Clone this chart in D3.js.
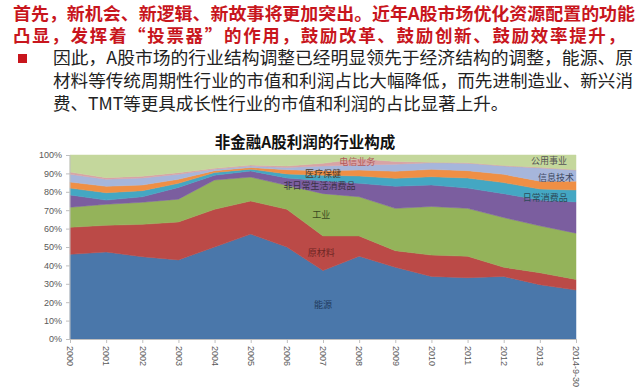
<!DOCTYPE html>
<html>
<head>
<meta charset="utf-8">
<script src="https://cdn.jsdelivr.net/npm/d3@7"></script>
<style>
  html, body { margin: 0; padding: 0; background: #fff; }
  svg { display: block; }
</style>
</head>
<body>
<div id="chart"></div>
<script>
// categories (x axis)
var years = ["2000", "2001", "2002", "2003", "2004", "2005", "2006", "2007",
             "2008", "2009", "2010", "2011", "2012", "2013", "2014-9-30"];

// share of non-financial A-share profit, %
var energy    = [46.0, 47.3, 44.7, 43.0, 50.0, 57.0, 50.0, 37.2, 45.0, 39.0, 34.0, 33.3, 34.0, 29.5, 26.6];
var materials = [14.7, 14.5, 17.6, 20.6, 20.5, 18.0, 20.5, 18.8, 11.0,  9.0, 11.6, 11.7,  5.0,  6.5,  5.8];
var industry  = [10.9, 11.4, 12.0, 12.4, 15.9, 13.0, 13.0, 23.0, 21.3, 23.0, 26.4, 26.0, 27.0, 25.5, 25.1];
var consDisc  = [ 6.7,  2.3,  3.0,  6.4,  2.6,  3.3,  4.0,  7.0,  7.3, 12.0, 11.7, 11.0, 13.0, 14.0, 17.0];
var consStap  = [ 3.7,  4.0,  3.3,  2.2,  1.5,  1.0,  2.2,  3.0,  4.0,  4.3,  4.5,  5.5,  6.0,  6.0,  6.5];
var health    = [ 3.3,  3.5,  3.1,  2.2,  1.0,  0.9,  2.3,  2.5,  3.2,  3.9,  4.0,  4.0,  4.5,  4.3,  4.8];
var infoTech  = [ 4.2,  3.8,  3.8,  2.7,  0.8,  0.8,  1.2,  2.5,  2.8,  3.8,  3.6,  4.0,  4.5,  7.2,  6.0];
var telecom   = [ 1.2,  0.9,  1.0,  0.9,  0.5,  0.5,  0.8,  1.5,  3.4,  1.5,  0.2,  0.3,  0.3,  0.3,  0.2];
var utilities = [ 9.3, 12.3, 11.5,  9.6,  7.2,  5.5,  6.0,  4.5,  2.0,  3.5,  4.0,  4.2,  5.7,  6.7,  8.0];

var seriesNames = ["能源", "原材料", "工业", "非日常生活消费品", "日常消费品",
                   "医疗保健", "信息技术", "电信业务", "公用事业"];
var seriesValues = [energy, materials, industry, consDisc, consStap,
                    health, infoTech, telecom, utilities];
var seriesColors = ["#4a77aa", "#bb4a47", "#94b35a", "#7b5e9f", "#44a7c3",
                    "#ef8f45", "#a6b6db", "#d8a3a6", "#c4d79c"];

// y axis ticks
var yTicks = [0, 10, 20, 30, 40, 50, 60, 70, 80, 90, 100];

// where the in-chart labels sit: category index and % value
var labelSpots = [
  {name: "能源",             at: 7,     v: 18.5, color: "#1f3a5c"},
  {name: "原材料",           at: 6.95,  v: 46.7, color: "#6e2624"},
  {name: "工业",             at: 6.95,  v: 67.4, color: "#3b4a22"},
  {name: "非日常生活消费品", at: 6.9,   v: 83.2, color: "#3a3146"},
  {name: "医疗保健",         at: 7,     v: 89.7, color: "#4a3a2c"},
  {name: "电信业务",         at: 7.95,  v: 96.2, color: "#b25a5a"},
  {name: "公用事业",         at: 13.25, v: 96.7, color: "#555555"},
  {name: "信息技术",         at: 13.45, v: 87.5, color: "#3d4660"},
  {name: "日常消费品",       at: 13.15, v: 76.6, color: "#2c4a58"}
];

var W = 640, H = 392;
var svg = d3.select("#chart").append("svg")
    .attr("width", W)
    .attr("height", H);

// ---- text above the chart
var cjk = "'Noto Sans CJK SC', 'Noto Sans', sans-serif";
var red = "#c8161d";

svg.append("text")
    .attr("x", 13).attr("y", 20)
    .attr("font-family", cjk).attr("font-size", 17.5).attr("font-weight", "bold")
    .attr("fill", red)
    .attr("textLength", 622).attr("lengthAdjust", "spacingAndGlyphs")
    .text("首先，新机会、新逻辑、新故事将更加突出。近年A股市场优化资源配置的功能");
svg.append("text")
    .attr("x", 13).attr("y", 42)
    .attr("font-family", cjk).attr("font-size", 17.5).attr("font-weight", "bold")
    .attr("fill", red)
    .attr("textLength", 612).attr("lengthAdjust", "spacing")
    .text("凸显，发挥着“投票器”的作用，鼓励改革、鼓励创新、鼓励效率提升，");

svg.append("rect")
    .attr("x", 18).attr("y", 54).attr("width", 9).attr("height", 9)
    .attr("fill", "#c8161d");

var body = [
  "因此，A股市场的行业结构调整已经明显领先于经济结构的调整，能源、原",
  "材料等传统周期性行业的市值和利润占比大幅降低，而先进制造业、新兴消",
  "费、TMT等更具成长性行业的市值和利润的占比显著上升。"
];
body.forEach(function(line, i) {
  var t = svg.append("text")
      .attr("x", 53).attr("y", 64 + i * 23)
      .attr("font-family", cjk).attr("font-size", 17.5)
      .attr("fill", "#222")
      .text(line);
  if (i < 2) t.attr("textLength", 580).attr("lengthAdjust", "spacingAndGlyphs");
});

// ---- chart title
svg.append("text")
    .attr("x", 305).attr("y", 148)
    .attr("text-anchor", "middle")
    .attr("font-family", cjk).attr("font-size", 15.5).attr("font-weight", "bold")
    .attr("fill", "#111")
    .text("非金融A股利润的行业构成");

// ---- stacked area
var plotL = 70, plotR = 576, plotT = 155, plotB = 339;

var x = d3.scaleLinear().domain([0, years.length - 1]).range([plotL, plotR]);
var y = d3.scaleLinear().domain([0, 100]).range([plotB, plotT]);

var rows = years.map(function(yr, i) {
  var r = {year: yr, idx: i};
  seriesNames.forEach(function(n, k) { r[n] = seriesValues[k][i]; });
  return r;
});

var stacked = d3.stack().keys(seriesNames)(rows);

var area = d3.area()
    .x(function(d) { return x(d.data.idx); })
    .y0(function(d) { return y(d[0]); })
    .y1(function(d) { return y(Math.min(d[1], 100)); });

svg.append("g")
  .selectAll("path")
  .data(stacked)
  .enter()
  .append("path")
    .attr("d", area)
    .attr("fill", function(d, i) { return seriesColors[i]; })
    .attr("stroke", function(d, i) { return seriesColors[i]; })
    .attr("stroke-width", 0.5);

// axes
var axisFont = "'Liberation Sans', Arial, sans-serif";

var yAxis = svg.append("g")
    .attr("transform", "translate(" + plotL + ",0)")
    .call(d3.axisLeft(y).tickValues(yTicks).tickSize(4).tickPadding(4)
          .tickFormat(function(d) { return d + "%"; }));
yAxis.selectAll("text")
    .attr("font-family", axisFont).attr("font-size", 9).attr("fill", "#595959");

var xAxis = svg.append("g")
    .attr("transform", "translate(0," + plotB + ")")
    .call(d3.axisBottom(x).tickValues(d3.range(years.length)).tickSize(4)
          .tickFormat(function(i) { return years[i]; }));
xAxis.selectAll("text")
    .attr("font-family", axisFont).attr("font-size", 9).attr("fill", "#595959")
    .attr("y", 0).attr("x", 7).attr("dy", "0.35em")
    .attr("transform", "rotate(90)")
    .style("text-anchor", "start");

svg.selectAll(".domain, .tick line").attr("stroke", "#bfbfbf");
yAxis.select(".domain").attr("d", "M0," + plotT + "V" + plotB);

// in-chart series labels
svg.append("g")
  .selectAll("text")
  .data(labelSpots)
  .enter()
  .append("text")
    .attr("x", function(d) { return x(d.at); })
    .attr("y", function(d) { return y(d.v); })
    .attr("dy", "0.35em")
    .attr("text-anchor", "middle")
    .attr("font-family", cjk).attr("font-size", 9)
    .attr("fill", function(d) { return d.color; })
    .text(function(d) { return d.name; });
</script>
</body>
</html>
